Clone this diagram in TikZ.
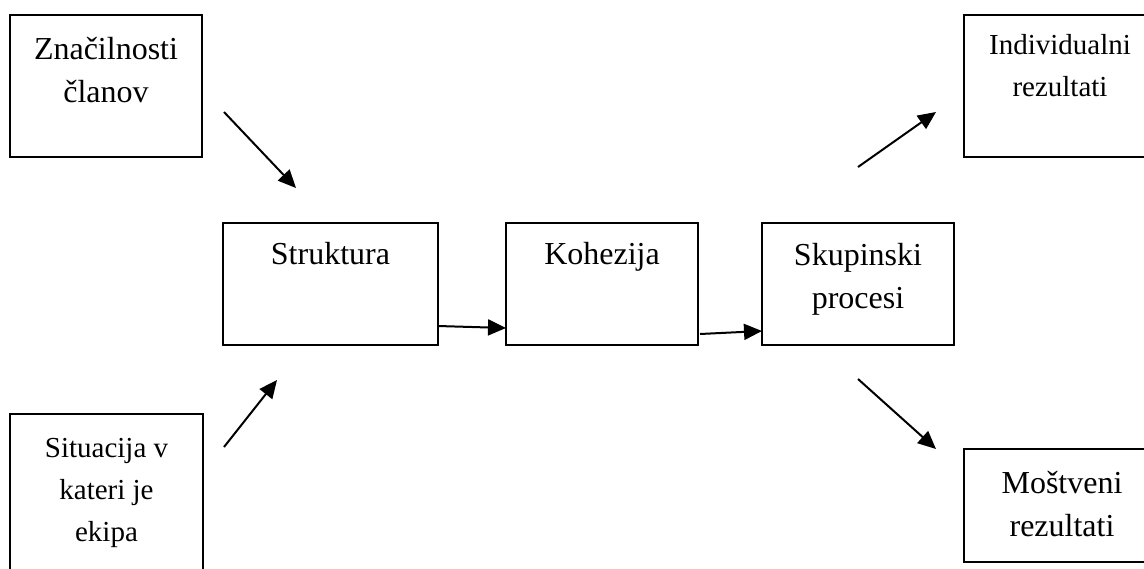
\documentclass[tikz,border=0pt]{standalone}
\usepackage{fontspec}
\setmainfont{Liberation Serif}
\usetikzlibrary{arrows.meta,calc,positioning}

\begin{document}
\begin{tikzpicture}[x=0.5pt, y=-0.5pt,
  box/.style = {draw, rectangle, line width=0.85pt, minimum width=96pt, minimum height=61pt, inner sep=0pt, outer sep=0pt},
  txt/.style = {anchor=north, align=center, inner sep=0pt, font=\fontsize{16}{21.5}\selectfont},
  small/.style = {font=\fontsize{14.5}{21}\selectfont},
  arr/.style = {-{Triangle[length=9pt, width=8pt]}, line width=1pt}]
\clip (0,0) rectangle (1144,568);
% middle row
\node[box, minimum width=107.5pt, label={[txt, yshift=-9.5pt]north:Struktura}] (struk) at (330.5,284) {};
\node[box, right=34pt of struk, label={[txt, yshift=-9.5pt]north:Kohezija}] (kohez) {};
\node[box, right=32pt of kohez, label={[txt, yshift=-10pt]north:Skupinski\\procesi}] (skup) {};
% inputs
\node[box, minimum height=71pt, label={[txt, yshift=-11pt]north:Značilnosti\\članov}] (znac) at (106,86) {};
\node[box, minimum width=96.5pt, minimum height=93pt, label={[txt, small, yshift=-12pt]north:Situacija v\\kateri je\\ekipa}] (situ) at (106.5,507) {};
% outputs
\node[box, minimum height=71pt, label={[txt, small, yshift=-9.5pt]north:Individualni\\rezultati}] (indiv) at (1060,86) {};
\node[box, minimum width=98pt, minimum height=56.5pt, label={[txt, yshift=-11pt]north:Moštveni\\rezultati}] (most) at (1062,505.5) {};
% free arrow ends
\coordinate (znac-out) at (224,112);
\coordinate (struk-in1) at (296,188);
\coordinate (situ-out) at (224,447);
\coordinate (struk-in2) at (277,380);
\coordinate (skup-out1) at (858,167);
\coordinate (indiv-in) at (936,112);
\coordinate (skup-out2) at (858,379);
\coordinate (most-in) at (936,449);
\draw[arr] (znac-out) -- (struk-in1);
\draw[arr] (situ-out) -- (struk-in2);
\draw[arr] ($(struk.east)+(0,42)$) -- ($(kohez.west)+(0,44)$);
\draw[arr] ($(kohez.east)+(2,50)$) -- ($(skup.west)+(0,47)$);
\draw[arr] (skup-out1) -- (indiv-in);
\draw[arr] (skup-out2) -- (most-in);
\end{tikzpicture}
\end{document}
